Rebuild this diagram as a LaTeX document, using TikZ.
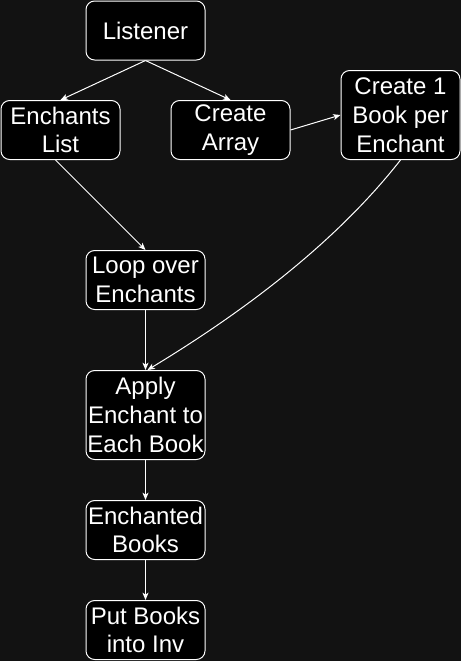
\documentclass[tikz,border=0pt]{standalone}
\usepackage{fontspec}
\setmainfont{Liberation Sans}
\usetikzlibrary{arrows.meta}
\definecolor{bgc}{HTML}{121212}
\begin{document}
\begin{tikzpicture}[x=0.75pt,y=-0.75pt,
  box/.style={draw=white,fill=black,text=white,rounded corners=6.5pt,line width=0.75pt,
    align=center,inner sep=0pt,minimum width=89.25pt,
    font=\fontsize{18}{21.6}\selectfont},
  box2/.style={box,minimum height=44.25pt},
  box3/.style={box,minimum height=66.75pt},
  conn/.style={draw=white,line width=0.75pt,-{Stealth[length=5.5pt,width=4.5pt,inset=1.5pt]}}]
\fill[bgc] (0,0) rectangle (461,661);
\useasboundingbox (0,0) rectangle (461,661);
\node[box2] (lis) at (145.5,30.5) {Listener};
\node[box2] (el) at (60.5,130) {Enchants\\List};
\node[box2] (ca) at (230.5,130) {Create\\Array};
\node[box3] (c1) at (400.5,115) {Create 1\\Book per\\Enchant};
\node[box2] (loop) at (145.5,280) {Loop over\\Enchants};
\node[box3] (ap) at (145.5,415) {Apply\\Enchant to\\Each Book};
\node[box2] (eb) at (145.5,530) {Enchanted\\Books};
\node[box2] (put) at (145.5,630) {Put Books\\into Inv};
\draw[conn] (lis.south) -- (el.north);
\draw[conn] (lis.south) -- (ca.north);
\draw[conn] (ca.east) -- (c1.west);
\draw[conn] ([xshift=-3.75pt]el.south) -- (loop.north);
\draw[conn] (c1.south) .. controls (330,250) and (230,320) .. ([xshift=1.5pt]ap.north);
\draw[conn] (loop.south) -- (ap.north);
\draw[conn] (ap.south) -- (eb.north);
\draw[conn] (eb.south) -- (put.north);
\end{tikzpicture}
\end{document}
